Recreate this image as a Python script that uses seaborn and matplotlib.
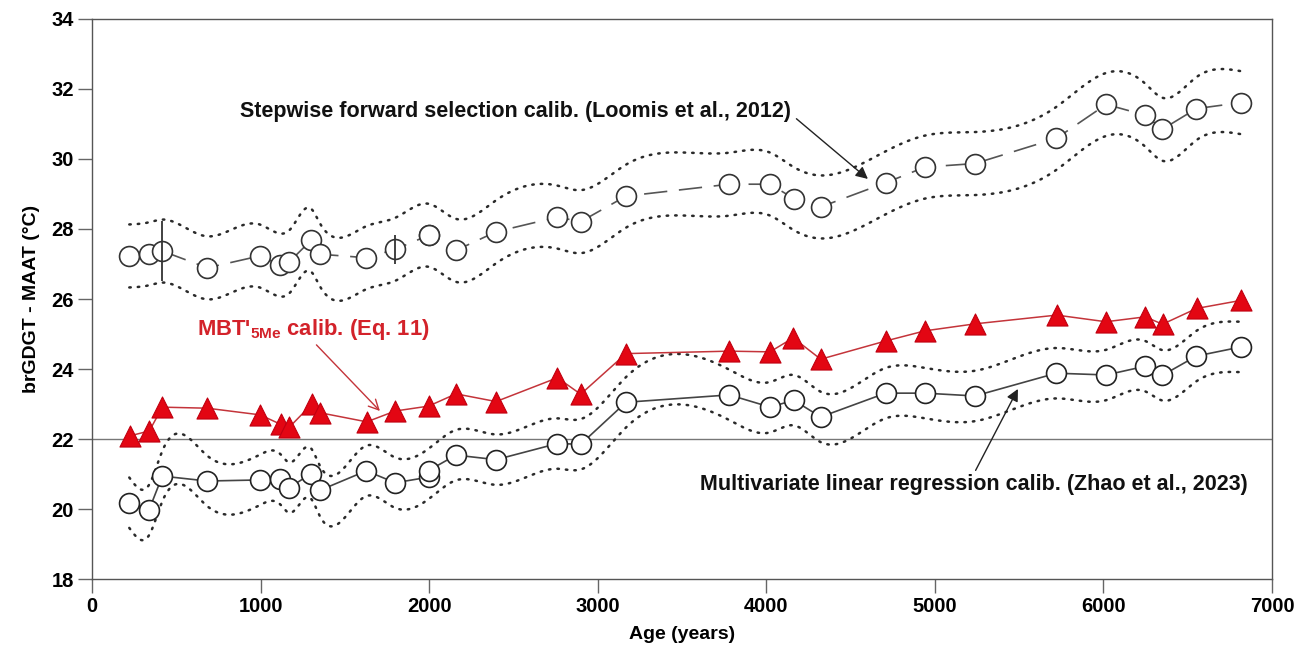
import numpy as np
import matplotlib
matplotlib.use("Agg")
import matplotlib.pyplot as plt
import seaborn as sns

# Ages (years) of the samples
age = [221, 337, 417, 684, 995, 1117, 1170, 1300, 1350, 1627, 1799, 1997, 1997,
       2159, 2397, 2761, 2899, 3168, 3781, 4024, 4162, 4323, 4708, 4942, 5238,
       5721, 6017, 6249, 6350, 6552, 6816]

# Stepwise forward selection calibration (Loomis et al., 2012)
loomis = [27.23, 27.29, 27.37, 26.89, 27.23, 26.97, 27.06, 27.68, 27.28, 27.18,
          27.42, 27.82, 27.82, 27.39, 27.92, 28.34, 28.21, 28.94, 29.28, 29.28,
          28.87, 28.63, 29.32, 29.77, 29.87, 30.59, 31.56, 31.25, 30.85, 31.44,
          31.61]
# individual analytical error bars on the Loomis series
loomis_bar = [0, 0, 0.86, 0, 0, 0, 0, 0, 0, 0, 0.41, 0, 0, 0, 0, 0, 0, 0, 0, 0,
              0, 0, 0, 0, 0, 0, 0, 0, 0, 0, 0]
loomis_rmse = 0.9

# Multivariate linear regression calibration (Zhao et al., 2023)
zhao = [20.18, 19.96, 20.94, 20.80, 20.83, 20.85, 20.61, 21.01, 20.53, 21.09,
        20.75, 20.91, 21.10, 21.54, 21.41, 21.87, 21.85, 23.05, 23.26, 22.91,
        23.11, 22.63, 23.31, 23.31, 23.23, 23.88, 23.83, 24.08, 23.82, 24.37,
        24.63]
zhao_rmse = 0.72

# MBT'5Me calibration (Eq. 11) -- one value per sample, no duplicate at 2000 yr
age_mbt = [225, 340, 417, 684, 997, 1119, 1171, 1303, 1353, 1630, 1799, 1997,
           2159, 2397, 2761, 2899, 3168, 3781, 4022, 4160, 4323, 4708, 4941,
           5238, 5723, 6015, 6248, 6351, 6553, 6816]
mbt = [22.09, 22.23, 22.91, 22.88, 22.69, 22.42, 22.34, 22.99, 22.75, 22.49,
       22.80, 22.94, 23.29, 23.07, 23.75, 23.28, 24.44, 24.51, 24.49, 24.89,
       24.28, 24.80, 25.09, 25.29, 25.54, 25.35, 25.49, 25.28, 25.73, 25.96]

reference_temp = 22.0
xticks = [0, 1000, 2000, 3000, 4000, 5000, 6000, 7000]
yticks = [18, 20, 22, 24, 26, 28, 30, 32, 34]


def natural_spline(x, y, n=800):
    """Smooth natural cubic spline through (x, y); duplicate x are averaged."""
    x = np.asarray(x, float)
    y = np.asarray(y, float)
    ux = np.unique(x)
    uy = np.array([y[x == v].mean() for v in ux])
    k = len(ux)
    h = np.diff(ux)
    A = np.zeros((k, k))
    r = np.zeros(k)
    A[0, 0] = A[-1, -1] = 1.0
    for i in range(1, k - 1):
        A[i, i - 1] = h[i - 1]
        A[i, i] = 2 * (h[i - 1] + h[i])
        A[i, i + 1] = h[i]
        r[i] = 6 * ((uy[i + 1] - uy[i]) / h[i] - (uy[i] - uy[i - 1]) / h[i - 1])
    M = np.linalg.solve(A, r)
    xs = np.linspace(ux[0], ux[-1], n)
    j = np.clip(np.searchsorted(ux, xs) - 1, 0, k - 2)
    t0 = ux[j + 1] - xs
    t1 = xs - ux[j]
    hj = h[j]
    ys = (M[j] * t0 ** 3 / (6 * hj) + M[j + 1] * t1 ** 3 / (6 * hj)
          + (uy[j] / hj - M[j] * hj / 6) * t0
          + (uy[j + 1] / hj - M[j + 1] * hj / 6) * t1)
    return xs, ys


sns.set_style("ticks")
plt.rcParams["font.family"] = ["Liberation Sans", "DejaVu Sans"]

fig = plt.figure(figsize=(13.09, 6.46), dpi=100)
ax = fig.add_axes([0.0703, 0.1037, 0.9014, 0.8669])

ax.axhline(reference_temp, color="#777777", lw=1.0, zorder=1)

dot_style = dict(color="#2a2a2a", lw=1.8, linestyle=(0, (0.6, 2.8)),
                 dash_capstyle="round", zorder=1.5)
for series, err in ((loomis, loomis_rmse), (zhao, zhao_rmse)):
    hi = np.asarray(series) + err
    lo = np.asarray(series) - err
    for bound in (hi, lo):
        xs, ys = natural_spline(age, bound)
        ax.plot(xs, ys, **dot_style)

# connecting lines
sns.lineplot(x=age, y=loomis, ax=ax, estimator=None, sort=False,
             color="#555555", lw=1.2, linestyle=(0, (14, 7)), zorder=2)
sns.lineplot(x=age, y=zhao, ax=ax, estimator=None, sort=False,
             color="#444444", lw=1.2, zorder=2)
sns.lineplot(x=age_mbt, y=mbt, ax=ax, estimator=None, sort=False,
             color="#c4343a", lw=1.1, zorder=2)

# markers
sns.scatterplot(x=age, y=loomis, ax=ax, marker="o", s=205, color="white",
                edgecolor="#333333", linewidth=1.2, zorder=3)
sns.scatterplot(x=age, y=zhao, ax=ax, marker="o", s=205, color="white",
                edgecolor="#222222", linewidth=1.2, zorder=3)
sns.scatterplot(x=age_mbt, y=mbt, ax=ax, marker="^", s=230, color="#e30613",
                edgecolor="#c00010", linewidth=0.8, zorder=3)

bars = np.asarray(loomis_bar)
sel = bars > 0
ax.vlines(np.asarray(age)[sel], np.asarray(loomis)[sel] - bars[sel],
          np.asarray(loomis)[sel] + bars[sel], color="#333333", lw=1.3,
          zorder=4)

# annotations
txt_kw = dict(va="center", ha="left", fontweight="bold")
ax.annotate("Stepwise forward selection calib. (Loomis et al., 2012)",
            xy=(4603, 29.43), xytext=(878, 31.37), color="#111111",
            fontsize=15.5,
            arrowprops=dict(arrowstyle="-|>", color="#222222", lw=1.0,
                            shrinkA=2, shrinkB=0, mutation_scale=18,
                            relpos=(1.0, 0.35)),
            **txt_kw)
ax.annotate("MBT'$_{\\mathregular{5Me}}$ calib. (Eq. 11)",
            xy=(1708, 22.8), xytext=(623, 25.14), color="#d3222a",
            fontsize=15.8,
            arrowprops=dict(arrowstyle="->", color="#c4343a", lw=1.0,
                            shrinkA=0, shrinkB=0, mutation_scale=18,
                            relpos=(0.5, 0.0)),
            **txt_kw)
ax.annotate("Multivariate linear regression calib. (Zhao et al., 2023)",
            xy=(5493, 23.43), xytext=(3607, 20.71), color="#111111",
            fontsize=15.5,
            arrowprops=dict(arrowstyle="-|>", color="#222222", lw=1.0,
                            shrinkA=0, shrinkB=0, mutation_scale=18,
                            relpos=(0.5, 1.0)),
            **txt_kw)

ax.set_xlim(0, 7000)
ax.set_ylim(18, 34)
ax.set_xticks(xticks)
ax.set_yticks(yticks)
ax.tick_params(axis="both", direction="out", length=10, width=1.0,
               color="#666666", labelsize=14.5, labelcolor="black", pad=3)
for lab in ax.get_xticklabels() + ax.get_yticklabels():
    lab.set_fontweight("bold")
for side in ("left", "right", "top", "bottom"):
    ax.spines[side].set_visible(True)
    ax.spines[side].set_color("#555555")
    ax.spines[side].set_linewidth(1.0)

ax.set_xlabel("Age (years)", fontsize=14, fontweight="bold", labelpad=7,
              color="black")
ax.set_ylabel("brGDGT - MAAT (°C)", fontsize=14, fontweight="bold",
              labelpad=8, color="black")

fig.savefig("out.png", dpi=100, facecolor="white")
